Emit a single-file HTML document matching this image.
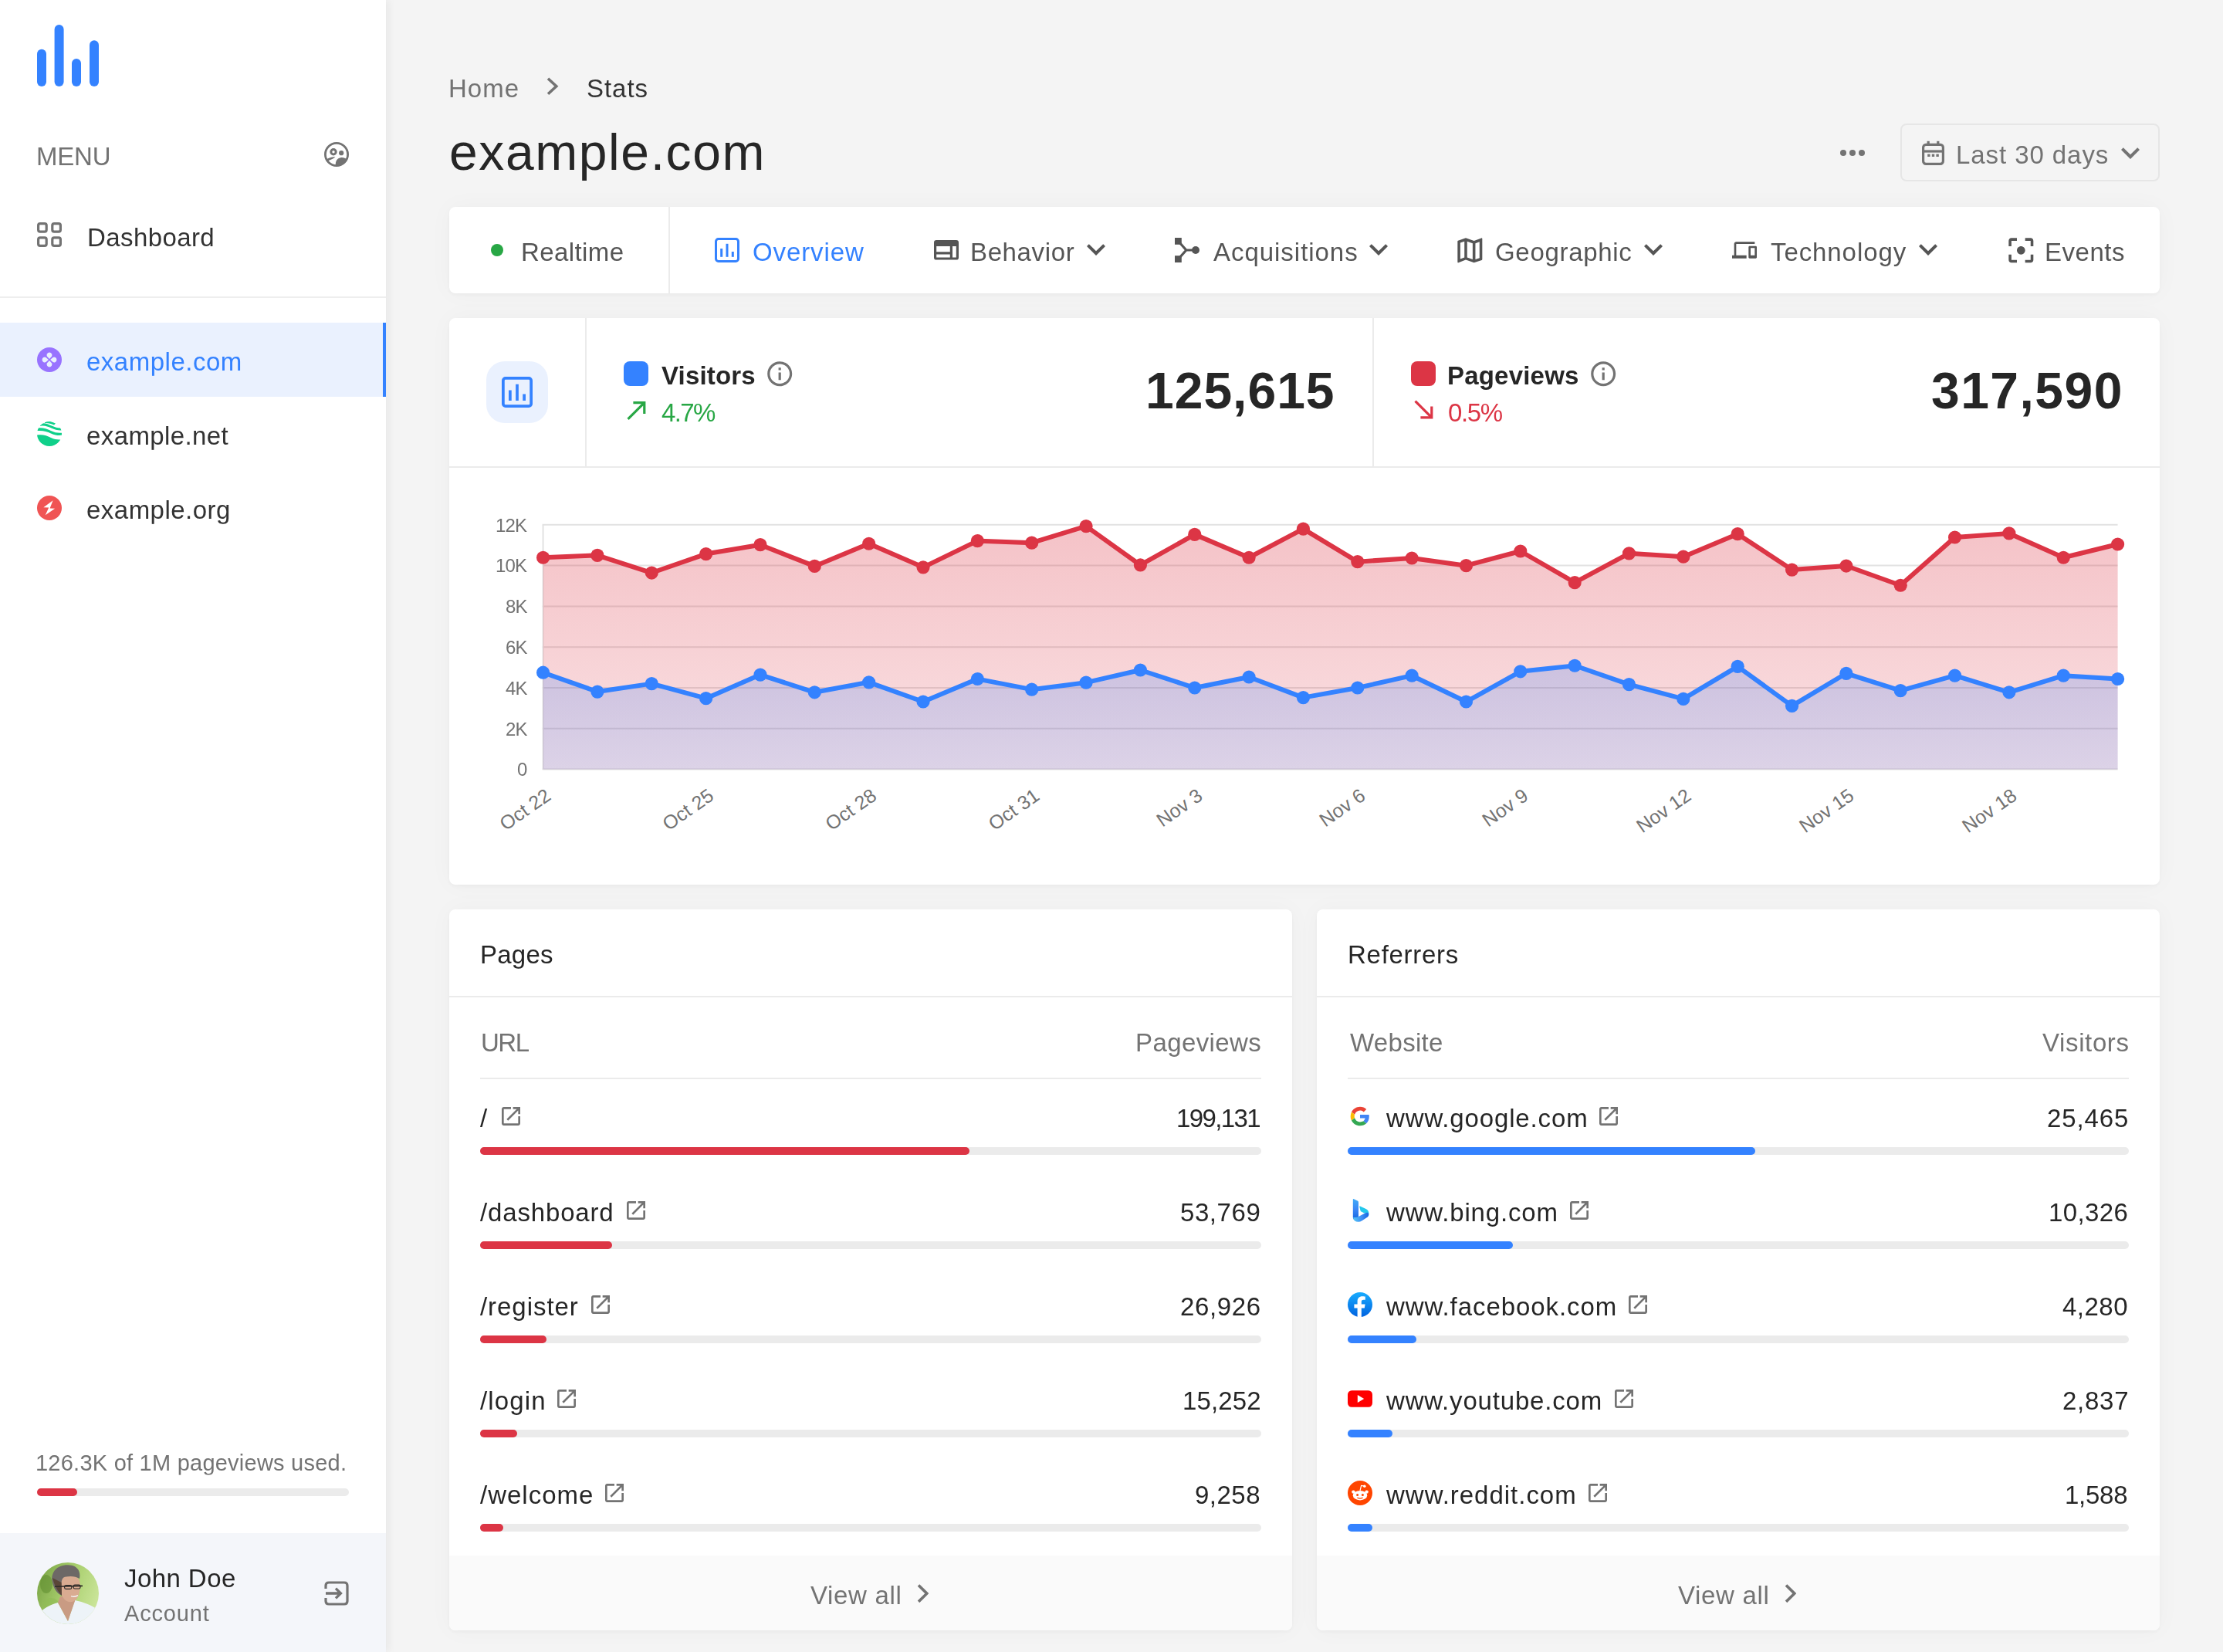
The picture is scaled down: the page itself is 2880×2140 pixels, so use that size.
<!DOCTYPE html>
<html><head><meta charset="utf-8"><title>Stats - example.com</title>
<style>
html,body{margin:0;padding:0;}
body{width:1440px;height:1070px;overflow:hidden;position:relative;background:#f4f4f4;font-family:'Liberation Sans', sans-serif;}
svg{display:block}
@media (min-width:2000px){html{zoom:2}}
</style><script>(function(){var w=window.innerWidth;if(w&&Math.abs(w-1440)>1){document.documentElement.style.zoom=(w/1440);}})();</script></head><body>
<div style="position:absolute;left:0px;top:0px;width:250px;height:1070px;background:#ffffff;box-shadow:2px 0 5px rgba(0,0,0,0.05);z-index:1"></div><div style="position:absolute;left:0;top:0;width:250px;height:1070px;z-index:2"><svg style="position:absolute;left:24px;top:15.9px;width:40px;height:40px;" viewBox="0 0 40 40"><rect x="0" y="15.9" width="6" height="24.1" rx="3" fill="#3482ff"/><rect x="11.3" y="0" width="6" height="40" rx="3" fill="#3482ff"/><rect x="22.5" y="22" width="6" height="18" rx="3" fill="#3482ff"/><rect x="34" y="10.1" width="6" height="29.9" rx="3" fill="#3482ff"/></svg><svg style="position:absolute;left:210px;top:92px;width:16px;height:16px;" viewBox="0 0 16 16"><circle cx="8" cy="8" r="7.3" fill="none" stroke="#737373" stroke-width="1.4"/><circle cx="6.0" cy="6.4" r="1.6" fill="none" stroke="#737373" stroke-width="1.5"/><circle cx="11.1" cy="7.1" r="1.55" fill="#737373"/><path d="M1.4 11.3 C2.8 10.2 5 9.5 7.2 9.6 C6.4 10.7 4.3 11.2 2.3 12.3 Z" fill="#737373"/><path d="M7.4 15.2 C7.2 12.8 7.9 10.6 10.7 10.1 C12.4 9.9 13.8 10.5 14.7 11.2 C13.6 13.6 11.2 15.2 8 15.3 Z" fill="#737373"/></svg><svg style="position:absolute;left:24px;top:144px;width:16px;height:16px;" viewBox="0 0 16 16"><rect x="0.8" y="0.8" width="5.3" height="5.3" rx="1.2" fill="none" stroke="#737373" stroke-width="1.6"/><rect x="0.8" y="9.9" width="5.3" height="5.3" rx="1.2" fill="none" stroke="#737373" stroke-width="1.6"/><rect x="9.9" y="0.8" width="5.3" height="5.3" rx="1.2" fill="none" stroke="#737373" stroke-width="1.6"/><rect x="9.9" y="9.9" width="5.3" height="5.3" rx="1.2" fill="none" stroke="#737373" stroke-width="1.6"/></svg><div style="position:absolute;left:0px;top:192px;width:250px;height:1px;background:#eeeeee;"></div><div style="position:absolute;left:0px;top:209px;width:250px;height:48px;background:#eaf1fe;"></div><div style="position:absolute;left:248px;top:209px;width:2px;height:48px;background:#3482ff;"></div><svg style="position:absolute;left:24px;top:225px;width:16px;height:16px;" viewBox="0 0 16 16"><circle cx="8" cy="8" r="8" fill="#9873ff"/><g fill="#eaf1fe"><path transform="rotate(0 8 8)" d="M8 7.45 L6.45 5.75 A1.72 1.72 0 1 1 9.55 5.75 Z"/><path transform="rotate(90 8 8)" d="M8 7.45 L6.45 5.75 A1.72 1.72 0 1 1 9.55 5.75 Z"/><path transform="rotate(180 8 8)" d="M8 7.45 L6.45 5.75 A1.72 1.72 0 1 1 9.55 5.75 Z"/><path transform="rotate(270 8 8)" d="M8 7.45 L6.45 5.75 A1.72 1.72 0 1 1 9.55 5.75 Z"/></g></svg><svg style="position:absolute;left:24px;top:273px;width:16px;height:16px;" viewBox="0 0 16 16"><defs><clipPath id="cg"><circle cx="8" cy="8" r="8"/></clipPath></defs><g clip-path="url(#cg)" fill="#10d08a"><path d="M-1 9 C3 8 6 9 9 10.5 C12 11.8 14 12 17 11.5 L17 17 L-1 17 Z"/><path d="M-1 4.4 C3 3.6 6 4.6 9 6 C12 7.4 14 7.6 17 7.2 L17 8.8 C14 9.2 12 9 9 7.7 C6 6.3 3 5.5 -1 6.2 Z"/><path d="M2 1.3 C5 0.6 7 1.6 9.5 2.8 C12 4 13.5 4.3 16 4.2 L16 5.7 C13.5 5.8 11.6 5.4 9.2 4.3 C6.8 3.2 4.8 2.4 2 3 Z"/><path d="M5 -0.3 C8 -0.6 10 0.3 12 1.3 L11 2.3 C9 1.3 7 0.8 5 1 Z"/></g></svg><svg style="position:absolute;left:24px;top:321px;width:16px;height:16px;" viewBox="0 0 16 16"><circle cx="8" cy="8" r="8" fill="#f05454"/><path d="M10.3 3.1 L4.2 7.6 L7.6 7.7 L5.4 12.6 L11.6 8.4 L8.3 8.3 Z" fill="#ffffff"/></svg><div style="position:absolute;left:24px;top:964px;width:202px;height:5px;background:#ebebeb;border-radius:3px"></div><div style="position:absolute;left:24px;top:964px;width:26px;height:5px;background:#dc3545;border-radius:3px"></div><div style="position:absolute;left:0px;top:993px;width:250px;height:77px;background:#f4f6fa;"></div><svg style="position:absolute;left:24px;top:1012px;width:40px;height:40px;" viewBox="0 0 40 40"><defs><clipPath id="av"><circle cx="20" cy="20" r="20"/></clipPath><linearGradient id="avg" x1="0" y1="0.2" x2="1" y2="0.6"><stop offset="0" stop-color="#7aa545"/><stop offset="0.5" stop-color="#a9cf6e"/><stop offset="1" stop-color="#cbe59a"/></linearGradient></defs><g clip-path="url(#av)"><rect width="40" height="40" fill="url(#avg)"/><ellipse cx="6" cy="14" rx="4" ry="6" fill="#5d8a2e" opacity="0.55"/><ellipse cx="9" cy="27" rx="5" ry="4" fill="#8fbd55" opacity="0.6"/><path d="M0 40 L0 35 C3 30 8 27.5 13.5 26 L20 38 L24.5 24.5 C30 25.5 36 28 40 31 L40 40 Z" fill="#edf3f8"/><path d="M15 22 L25 22 L24.5 25 L20 38 L13.5 26 Z" fill="#c99b83"/><path d="M14.6 14 C14.6 9.5 17.5 8.6 21.5 8.6 C26 8.6 28 10.5 27.9 15 C27.8 20 26.5 25.6 21.5 25.6 C17.5 25.6 14.8 21 14.6 14 Z" fill="#d9ab91"/><path d="M9.6 11 C9.6 4.5 14.5 1.5 20 1.6 C25.5 1.7 28.5 5 27.5 10.5 C25 8.8 21.5 8.6 18 9.4 C16.5 9.8 15.8 11.5 15.8 14 L16 21.5 C13 20 10.5 17 9.6 11 Z" fill="#6d6866"/><path d="M10 10 C11 14 13 18.5 16 21.5 L15.8 13 Z" fill="#5a4638"/><path d="M11.5 15.6 L29.5 15.2" stroke="#2f2b29" stroke-width="0.8"/><rect x="17.8" y="14.8" width="4.6" height="2.4" rx="0.9" fill="none" stroke="#2f2b29" stroke-width="0.6"/><rect x="23.6" y="14.6" width="4.4" height="2.4" rx="0.9" fill="none" stroke="#2f2b29" stroke-width="0.6"/><path d="M22 21.8 Q24.5 22.6 26.5 21.3" stroke="#f4f4f4" stroke-width="0.7" fill="none"/></g></svg><svg style="position:absolute;left:210px;top:1024px;width:16px;height:16px;" viewBox="0 0 16 16"><path d="M1 5 V3 Q1 1 3 1 H13 Q15 1 15 3 V13 Q15 15 13 15 H3 Q1 15 1 13 V11" fill="none" stroke="#737373" stroke-width="1.6"/><path d="M1 8 H10.5 M7.5 4.8 L10.7 8 L7.5 11.2" fill="none" stroke="#737373" stroke-width="1.7"/></svg></div><svg style="position:absolute;left:354px;top:50.2px;width:7.8px;height:11.8px;" viewBox="0 0 7.8 11.8"><path d="M1 0.9 L6.4 5.9 L1 10.9" fill="none" stroke="#737373" stroke-width="1.8"/></svg><svg style="position:absolute;left:1188px;top:87px;width:24px;height:24px;" viewBox="0 0 24 24"><circle cx="6" cy="12" r="2" fill="#737373"/><circle cx="12" cy="12" r="2" fill="#737373"/><circle cx="18" cy="12" r="2" fill="#737373"/></svg><div style="position:absolute;left:1231px;top:80px;width:168px;height:37.5px;background:transparent;border:1px solid #e6e6e6;border-radius:4px;box-sizing:border-box"></div><svg style="position:absolute;left:1245px;top:91px;width:14.5px;height:16px;" viewBox="0 0 14.5 16"><rect x="0.8" y="2.7" width="12.9" height="12.5" rx="1.8" fill="none" stroke="#737373" stroke-width="1.6"/><rect x="1" y="6.2" width="12.5" height="1.6" fill="#737373"/><rect x="3.3" y="0.4" width="1.6" height="3" fill="#737373"/><rect x="9.6" y="0.4" width="1.6" height="3" fill="#737373"/><rect x="3.6" y="8.8" width="1.7" height="1.7" fill="#737373"/><rect x="6.4" y="8.8" width="1.7" height="1.7" fill="#737373"/><rect x="9.2" y="8.8" width="1.7" height="1.7" fill="#737373"/></svg><svg style="position:absolute;left:1368.0px;top:86.81px;width:24.0px;height:24.0px;color:#737373;" viewBox="0 0 24 24"><path fill="currentColor" d="M16.59 8.59L12 13.17 7.41 8.59 6 10l6 6 6-6z"/></svg><div style="position:absolute;left:291px;top:134px;width:1108px;height:56px;background:#ffffff;border-radius:4px;box-shadow:0 1px 2px rgba(0,0,0,0.03),0 0 16px rgba(0,0,0,0.03)"></div><div style="position:absolute;left:433px;top:134px;width:1px;height:56px;background:#ebebeb;"></div><div style="position:absolute;left:318px;top:158px;width:8px;height:8px;border-radius:4px;background:#28a745"></div><svg style="position:absolute;left:463px;top:154px;width:16px;height:16px;" viewBox="0 0 16 16"><rect x="0.75" y="0.75" width="14.5" height="14.5" rx="1.6" fill="none" stroke="#3482ff" stroke-width="1.5"/><rect x="3.6" y="7" width="1.5" height="5.4" fill="#3482ff"/><rect x="7.25" y="3.9" width="1.5" height="8.5" fill="#3482ff"/><rect x="10.9" y="9" width="1.5" height="3.4" fill="#3482ff"/></svg><svg style="position:absolute;left:605px;top:155.6px;width:16px;height:12.8px;" viewBox="0 0 16 12.8"><path fill="#555555" fill-rule="evenodd" d="M1.6 0 H14.4 Q16 0 16 1.6 V11.2 Q16 12.8 14.4 12.8 H1.6 Q0 12.8 0 11.2 V1.6 Q0 0 1.6 0 Z M1.6 4 V7.6 H10.4 V4 Z M1.6 9.2 V11.2 H10.4 V9.2 Z M12 4 V11.2 H14.4 V4 Z"/></svg><svg style="position:absolute;left:698.0px;top:149.41px;width:24.0px;height:24.0px;color:#555555;" viewBox="0 0 24 24"><path fill="currentColor" d="M16.59 8.59L12 13.17 7.41 8.59 6 10l6 6 6-6z"/></svg><svg style="position:absolute;left:761px;top:154px;width:16px;height:16px;" viewBox="0 0 16 16"><rect x="0" y="0" width="4.4" height="4.4" fill="#555555"/><rect x="0" y="11.6" width="4.4" height="4.4" fill="#555555"/><circle cx="13.5" cy="8" r="2.5" fill="#555555"/><path d="M3 3 L7.4 8 L3 13 M7.4 8 H12" fill="none" stroke="#555555" stroke-width="1.6"/></svg><svg style="position:absolute;left:881.0px;top:149.41px;width:24.0px;height:24.0px;color:#555555;" viewBox="0 0 24 24"><path fill="currentColor" d="M16.59 8.59L12 13.17 7.41 8.59 6 10l6 6 6-6z"/></svg><svg style="position:absolute;left:941.3333333333334px;top:151.33333333333334px;width:21.333333333333332px;height:21.333333333333332px;color:#555555;" viewBox="0 0 24 24"><path fill="currentColor" d="M20.5 3l-.16.03L15 5.1 9 3 3.36 4.9c-.21.07-.36.25-.36.48V20.5c0 .28.22.5.5.5l.16-.03L9 18.9l6 2.1 5.64-1.9c.21-.07.36-.25.36-.48V3.5c0-.28-.22-.5-.5-.5zM10 5.47l4 1.4v11.66l-4-1.4V5.47zm-5 .99l3-1.01v11.7l-3 1.16V6.46zm14 11.08l-3 1.01V6.86l3-1.16v11.84z"/></svg><svg style="position:absolute;left:1059.0px;top:149.41px;width:24.0px;height:24.0px;color:#555555;" viewBox="0 0 24 24"><path fill="currentColor" d="M16.59 8.59L12 13.17 7.41 8.59 6 10l6 6 6-6z"/></svg><svg style="position:absolute;left:1122.0px;top:153.93333333333334px;width:16.0px;height:16.0px;color:#555555;" viewBox="0 0 24 24"><path fill="currentColor" d="M4 6h18V4H4c-1.1 0-2 .9-2 2v11H0v3h14v-3H4V6zm19 2h-6c-.55 0-1 .45-1 1v10c0 .55.45 1 1 1h6c.55 0 1-.45 1-1V9c0-.55-.45-1-1-1zm-1 9h-4v-7h4v7z"/></svg><svg style="position:absolute;left:1237.0px;top:149.41px;width:24.0px;height:24.0px;color:#555555;" viewBox="0 0 24 24"><path fill="currentColor" d="M16.59 8.59L12 13.17 7.41 8.59 6 10l6 6 6-6z"/></svg><svg style="position:absolute;left:1298.3333333333333px;top:151.33333333333334px;width:21.333333333333332px;height:21.333333333333332px;color:#555555;" viewBox="0 0 24 24"><path fill="currentColor" d="M5 15H3v4c0 1.1.9 2 2 2h4v-2H5v-4zM5 5h4V3H5c-1.1 0-2 .9-2 2v4h2V5zm14-2h-4v2h4v4h2V5c0-1.1-.9-2-2-2zm0 16h-4v2h4c1.1 0 2-.9 2-2v-4h-2v4zM12 9c-1.66 0-3 1.34-3 3s1.34 3 3 3 3-1.34 3-3-1.34-3-3-3z"/></svg><div style="position:absolute;left:291px;top:206px;width:1108px;height:367px;background:#ffffff;border-radius:4px;box-shadow:0 1px 2px rgba(0,0,0,0.03),0 0 16px rgba(0,0,0,0.03)"></div><div style="position:absolute;left:315px;top:234px;width:40px;height:40px;background:#eaf1fe;border-radius:12px"></div><svg style="position:absolute;left:325px;top:244px;width:20px;height:20px;" viewBox="0 0 16 16"><rect x="0.75" y="0.75" width="14.5" height="14.5" rx="1.2" fill="none" stroke="#3482ff" stroke-width="1.5"/><rect x="3.6" y="7" width="1.5" height="5.4" fill="#3482ff"/><rect x="7.25" y="3.9" width="1.5" height="8.5" fill="#3482ff"/><rect x="10.9" y="9" width="1.5" height="3.4" fill="#3482ff"/></svg><div style="position:absolute;left:379px;top:206px;width:1px;height:96px;background:#ebebeb;"></div><div style="position:absolute;left:889px;top:206px;width:1px;height:96px;background:#ebebeb;"></div><div style="position:absolute;left:291px;top:302px;width:1108px;height:1px;background:#ebebeb;"></div><div style="position:absolute;left:404px;top:234px;width:16px;height:16px;background:#3482ff;border-radius:4px"></div><svg style="position:absolute;left:495.59999999999997px;top:232.4px;width:19.200000000000003px;height:19.200000000000003px;color:#737373;" viewBox="0 0 24 24"><path fill="currentColor" d="M11 7h2v2h-2zm0 4h2v6h-2zm1-9C6.48 2 2 6.48 2 12s4.48 10 10 10 10-4.48 10-10S17.52 2 12 2zm0 18c-4.41 0-8-3.59-8-8s3.59-8 8-8 8 3.59 8 8-3.59 8-8 8z"/></svg><svg style="position:absolute;left:402.8px;top:256.0px;width:19.200000000000003px;height:19.200000000000003px;color:#28a745;" viewBox="0 0 24 24"><path fill="currentColor" d="M9 5v2h6.59L4 18.59 5.41 20 17 8.41V15h2V5z"/></svg><div style="position:absolute;left:914px;top:234px;width:16px;height:16px;background:#dc3545;border-radius:4px"></div><svg style="position:absolute;left:1029.0000000000002px;top:232.4px;width:19.200000000000003px;height:19.200000000000003px;color:#737373;" viewBox="0 0 24 24"><path fill="currentColor" d="M11 7h2v2h-2zm0 4h2v6h-2zm1-9C6.48 2 2 6.48 2 12s4.48 10 10 10 10-4.48 10-10S17.52 2 12 2zm0 18c-4.41 0-8-3.59-8-8s3.59-8 8-8 8 3.59 8 8-3.59 8-8 8z"/></svg><svg style="position:absolute;left:912.8px;top:256.0px;width:19.200000000000003px;height:19.200000000000003px;color:#dc3545;" viewBox="0 0 24 24"><path fill="currentColor" d="M19 9h-2v6.59L5.41 4 4 5.41 15.59 17H9v2h10z"/></svg><svg style="position:absolute;left:0;top:0;width:1440px;height:1070px;overflow:visible;z-index:3" viewBox="0 0 1440 1070"><defs><linearGradient id="gr" x1="0" y1="0" x2="0" y2="1"><stop offset="0" stop-color="#dc3545" stop-opacity="0.30"/><stop offset="1" stop-color="#dc3545" stop-opacity="0.15"/></linearGradient><linearGradient id="gb" x1="0" y1="0" x2="0" y2="1"><stop offset="0" stop-color="#3482ff" stop-opacity="0.22"/><stop offset="1" stop-color="#3482ff" stop-opacity="0.15"/></linearGradient></defs><line x1="351.3" x2="1371.7996" y1="339.90" y2="339.90" stroke="#e2e2e2" stroke-width="1"/><line x1="351.3" x2="1371.7996" y1="366.30" y2="366.30" stroke="#e2e2e2" stroke-width="1"/><line x1="351.3" x2="1371.7996" y1="392.70" y2="392.70" stroke="#e2e2e2" stroke-width="1"/><line x1="351.3" x2="1371.7996" y1="419.10" y2="419.10" stroke="#e2e2e2" stroke-width="1"/><line x1="351.3" x2="1371.7996" y1="445.50" y2="445.50" stroke="#e2e2e2" stroke-width="1"/><line x1="351.3" x2="1371.7996" y1="471.90" y2="471.90" stroke="#e2e2e2" stroke-width="1"/><line x1="351.3" x2="1371.7996" y1="498.30" y2="498.30" stroke="#e2e2e2" stroke-width="1"/><line x1="351.8" x2="351.8" y1="339.9" y2="498.3" stroke="#e2e2e2" stroke-width="1"/><polygon points="351.8,498.3 351.80,361.13 386.97,359.69 422.14,371.02 457.32,358.79 492.49,352.85 527.66,366.70 562.83,352.13 598.01,367.42 633.18,350.33 668.35,351.59 703.52,340.80 738.70,365.98 773.87,346.19 809.04,361.13 844.21,342.59 879.39,363.83 914.56,361.49 949.73,366.34 984.90,356.99 1020.08,377.32 1055.25,358.43 1090.42,360.59 1125.59,345.83 1160.77,369.04 1195.94,366.52 1231.11,379.12 1266.28,347.99 1301.45,345.47 1336.63,361.13 1371.80,352.49 1371.7996,498.3" fill="url(#gr)"/><polygon points="351.8,498.3 351.80,435.61 386.97,448.03 422.14,442.81 457.32,452.35 492.49,437.05 527.66,448.39 562.83,441.91 598.01,454.51 633.18,439.75 668.35,446.59 703.52,442.09 738.70,433.99 773.87,445.51 809.04,438.49 844.21,451.81 879.39,445.51 914.56,437.59 949.73,454.51 984.90,434.89 1020.08,431.12 1055.25,443.35 1090.42,452.71 1125.59,431.66 1160.77,457.20 1195.94,436.15 1231.11,447.31 1266.28,437.59 1301.45,448.39 1336.63,437.59 1371.80,439.75 1371.7996,498.3" fill="url(#gb)"/><polyline points="351.80,361.13 386.97,359.69 422.14,371.02 457.32,358.79 492.49,352.85 527.66,366.70 562.83,352.13 598.01,367.42 633.18,350.33 668.35,351.59 703.52,340.80 738.70,365.98 773.87,346.19 809.04,361.13 844.21,342.59 879.39,363.83 914.56,361.49 949.73,366.34 984.90,356.99 1020.08,377.32 1055.25,358.43 1090.42,360.59 1125.59,345.83 1160.77,369.04 1195.94,366.52 1231.11,379.12 1266.28,347.99 1301.45,345.47 1336.63,361.13 1371.80,352.49" fill="none" stroke="#dc3545" stroke-width="3" stroke-linejoin="round"/><polyline points="351.80,435.61 386.97,448.03 422.14,442.81 457.32,452.35 492.49,437.05 527.66,448.39 562.83,441.91 598.01,454.51 633.18,439.75 668.35,446.59 703.52,442.09 738.70,433.99 773.87,445.51 809.04,438.49 844.21,451.81 879.39,445.51 914.56,437.59 949.73,454.51 984.90,434.89 1020.08,431.12 1055.25,443.35 1090.42,452.71 1125.59,431.66 1160.77,457.20 1195.94,436.15 1231.11,447.31 1266.28,437.59 1301.45,448.39 1336.63,437.59 1371.80,439.75" fill="none" stroke="#3482ff" stroke-width="3" stroke-linejoin="round"/><circle cx="351.80" cy="361.13" r="4.3" fill="#dc3545"/><circle cx="386.97" cy="359.69" r="4.3" fill="#dc3545"/><circle cx="422.14" cy="371.02" r="4.3" fill="#dc3545"/><circle cx="457.32" cy="358.79" r="4.3" fill="#dc3545"/><circle cx="492.49" cy="352.85" r="4.3" fill="#dc3545"/><circle cx="527.66" cy="366.70" r="4.3" fill="#dc3545"/><circle cx="562.83" cy="352.13" r="4.3" fill="#dc3545"/><circle cx="598.01" cy="367.42" r="4.3" fill="#dc3545"/><circle cx="633.18" cy="350.33" r="4.3" fill="#dc3545"/><circle cx="668.35" cy="351.59" r="4.3" fill="#dc3545"/><circle cx="703.52" cy="340.80" r="4.3" fill="#dc3545"/><circle cx="738.70" cy="365.98" r="4.3" fill="#dc3545"/><circle cx="773.87" cy="346.19" r="4.3" fill="#dc3545"/><circle cx="809.04" cy="361.13" r="4.3" fill="#dc3545"/><circle cx="844.21" cy="342.59" r="4.3" fill="#dc3545"/><circle cx="879.39" cy="363.83" r="4.3" fill="#dc3545"/><circle cx="914.56" cy="361.49" r="4.3" fill="#dc3545"/><circle cx="949.73" cy="366.34" r="4.3" fill="#dc3545"/><circle cx="984.90" cy="356.99" r="4.3" fill="#dc3545"/><circle cx="1020.08" cy="377.32" r="4.3" fill="#dc3545"/><circle cx="1055.25" cy="358.43" r="4.3" fill="#dc3545"/><circle cx="1090.42" cy="360.59" r="4.3" fill="#dc3545"/><circle cx="1125.59" cy="345.83" r="4.3" fill="#dc3545"/><circle cx="1160.77" cy="369.04" r="4.3" fill="#dc3545"/><circle cx="1195.94" cy="366.52" r="4.3" fill="#dc3545"/><circle cx="1231.11" cy="379.12" r="4.3" fill="#dc3545"/><circle cx="1266.28" cy="347.99" r="4.3" fill="#dc3545"/><circle cx="1301.45" cy="345.47" r="4.3" fill="#dc3545"/><circle cx="1336.63" cy="361.13" r="4.3" fill="#dc3545"/><circle cx="1371.80" cy="352.49" r="4.3" fill="#dc3545"/><circle cx="351.80" cy="435.61" r="4.3" fill="#3482ff"/><circle cx="386.97" cy="448.03" r="4.3" fill="#3482ff"/><circle cx="422.14" cy="442.81" r="4.3" fill="#3482ff"/><circle cx="457.32" cy="452.35" r="4.3" fill="#3482ff"/><circle cx="492.49" cy="437.05" r="4.3" fill="#3482ff"/><circle cx="527.66" cy="448.39" r="4.3" fill="#3482ff"/><circle cx="562.83" cy="441.91" r="4.3" fill="#3482ff"/><circle cx="598.01" cy="454.51" r="4.3" fill="#3482ff"/><circle cx="633.18" cy="439.75" r="4.3" fill="#3482ff"/><circle cx="668.35" cy="446.59" r="4.3" fill="#3482ff"/><circle cx="703.52" cy="442.09" r="4.3" fill="#3482ff"/><circle cx="738.70" cy="433.99" r="4.3" fill="#3482ff"/><circle cx="773.87" cy="445.51" r="4.3" fill="#3482ff"/><circle cx="809.04" cy="438.49" r="4.3" fill="#3482ff"/><circle cx="844.21" cy="451.81" r="4.3" fill="#3482ff"/><circle cx="879.39" cy="445.51" r="4.3" fill="#3482ff"/><circle cx="914.56" cy="437.59" r="4.3" fill="#3482ff"/><circle cx="949.73" cy="454.51" r="4.3" fill="#3482ff"/><circle cx="984.90" cy="434.89" r="4.3" fill="#3482ff"/><circle cx="1020.08" cy="431.12" r="4.3" fill="#3482ff"/><circle cx="1055.25" cy="443.35" r="4.3" fill="#3482ff"/><circle cx="1090.42" cy="452.71" r="4.3" fill="#3482ff"/><circle cx="1125.59" cy="431.66" r="4.3" fill="#3482ff"/><circle cx="1160.77" cy="457.20" r="4.3" fill="#3482ff"/><circle cx="1195.94" cy="436.15" r="4.3" fill="#3482ff"/><circle cx="1231.11" cy="447.31" r="4.3" fill="#3482ff"/><circle cx="1266.28" cy="437.59" r="4.3" fill="#3482ff"/><circle cx="1301.45" cy="448.39" r="4.3" fill="#3482ff"/><circle cx="1336.63" cy="437.59" r="4.3" fill="#3482ff"/><circle cx="1371.80" cy="439.75" r="4.3" fill="#3482ff"/><text x="355.80" y="514.5" transform="rotate(-35 355.80 514.5)" text-anchor="end" dominant-baseline="middle" font-family="Liberation Sans" font-size="12.5" fill="#737373">Oct 22</text><text x="461.32" y="514.5" transform="rotate(-35 461.32 514.5)" text-anchor="end" dominant-baseline="middle" font-family="Liberation Sans" font-size="12.5" fill="#737373">Oct 25</text><text x="566.83" y="514.5" transform="rotate(-35 566.83 514.5)" text-anchor="end" dominant-baseline="middle" font-family="Liberation Sans" font-size="12.5" fill="#737373">Oct 28</text><text x="672.35" y="514.5" transform="rotate(-35 672.35 514.5)" text-anchor="end" dominant-baseline="middle" font-family="Liberation Sans" font-size="12.5" fill="#737373">Oct 31</text><text x="777.87" y="514.5" transform="rotate(-35 777.87 514.5)" text-anchor="end" dominant-baseline="middle" font-family="Liberation Sans" font-size="12.5" fill="#737373">Nov 3</text><text x="883.39" y="514.5" transform="rotate(-35 883.39 514.5)" text-anchor="end" dominant-baseline="middle" font-family="Liberation Sans" font-size="12.5" fill="#737373">Nov 6</text><text x="988.90" y="514.5" transform="rotate(-35 988.90 514.5)" text-anchor="end" dominant-baseline="middle" font-family="Liberation Sans" font-size="12.5" fill="#737373">Nov 9</text><text x="1094.42" y="514.5" transform="rotate(-35 1094.42 514.5)" text-anchor="end" dominant-baseline="middle" font-family="Liberation Sans" font-size="12.5" fill="#737373">Nov 12</text><text x="1199.94" y="514.5" transform="rotate(-35 1199.94 514.5)" text-anchor="end" dominant-baseline="middle" font-family="Liberation Sans" font-size="12.5" fill="#737373">Nov 15</text><text x="1305.45" y="514.5" transform="rotate(-35 1305.45 514.5)" text-anchor="end" dominant-baseline="middle" font-family="Liberation Sans" font-size="12.5" fill="#737373">Nov 18</text></svg><div style="position:absolute;left:291px;top:589px;width:546px;height:467px;background:#ffffff;border-radius:4px;box-shadow:0 1px 2px rgba(0,0,0,0.03),0 0 16px rgba(0,0,0,0.03);overflow:hidden"></div><div style="position:absolute;left:291px;top:1007.5px;width:546px;height:48.5px;background:#fafafa;border-radius:0 0 4px 4px"></div><div style="position:absolute;left:291px;top:645px;width:546px;height:1px;background:#ebebeb;"></div><div style="position:absolute;left:311px;top:698px;width:506px;height:1px;background:#ebebeb;"></div><svg style="position:absolute;left:323.0px;top:715.0px;width:16.0px;height:16.0px;color:#737373;" viewBox="0 0 24 24"><path fill="currentColor" d="M19 19H5V5h7V3H5c-1.11 0-2 .9-2 2v14c0 1.1.89 2 2 2h14c1.1 0 2-.9 2-2v-7h-2v7zM14 3v2h3.59l-9.83 9.83 1.41 1.41L19 6.41V10h2V3h-7z"/></svg><div style="position:absolute;left:311px;top:743px;width:506px;height:5px;background:#ebebeb;border-radius:3px"></div><div style="position:absolute;left:311px;top:743px;width:316.8px;height:5px;background:#dc3545;border-radius:3px"></div><svg style="position:absolute;left:404.0px;top:776.0px;width:16.0px;height:16.0px;color:#737373;" viewBox="0 0 24 24"><path fill="currentColor" d="M19 19H5V5h7V3H5c-1.11 0-2 .9-2 2v14c0 1.1.89 2 2 2h14c1.1 0 2-.9 2-2v-7h-2v7zM14 3v2h3.59l-9.83 9.83 1.41 1.41L19 6.41V10h2V3h-7z"/></svg><div style="position:absolute;left:311px;top:804px;width:506px;height:5px;background:#ebebeb;border-radius:3px"></div><div style="position:absolute;left:311px;top:804px;width:85.7px;height:5px;background:#dc3545;border-radius:3px"></div><svg style="position:absolute;left:381.0px;top:837.0px;width:16.0px;height:16.0px;color:#737373;" viewBox="0 0 24 24"><path fill="currentColor" d="M19 19H5V5h7V3H5c-1.11 0-2 .9-2 2v14c0 1.1.89 2 2 2h14c1.1 0 2-.9 2-2v-7h-2v7zM14 3v2h3.59l-9.83 9.83 1.41 1.41L19 6.41V10h2V3h-7z"/></svg><div style="position:absolute;left:311px;top:865px;width:506px;height:5px;background:#ebebeb;border-radius:3px"></div><div style="position:absolute;left:311px;top:865px;width:43px;height:5px;background:#dc3545;border-radius:3px"></div><svg style="position:absolute;left:359.0px;top:898.0px;width:16.0px;height:16.0px;color:#737373;" viewBox="0 0 24 24"><path fill="currentColor" d="M19 19H5V5h7V3H5c-1.11 0-2 .9-2 2v14c0 1.1.89 2 2 2h14c1.1 0 2-.9 2-2v-7h-2v7zM14 3v2h3.59l-9.83 9.83 1.41 1.41L19 6.41V10h2V3h-7z"/></svg><div style="position:absolute;left:311px;top:926px;width:506px;height:5px;background:#ebebeb;border-radius:3px"></div><div style="position:absolute;left:311px;top:926px;width:23.9px;height:5px;background:#dc3545;border-radius:3px"></div><svg style="position:absolute;left:390.0px;top:959.0px;width:16.0px;height:16.0px;color:#737373;" viewBox="0 0 24 24"><path fill="currentColor" d="M19 19H5V5h7V3H5c-1.11 0-2 .9-2 2v14c0 1.1.89 2 2 2h14c1.1 0 2-.9 2-2v-7h-2v7zM14 3v2h3.59l-9.83 9.83 1.41 1.41L19 6.41V10h2V3h-7z"/></svg><div style="position:absolute;left:311px;top:987px;width:506px;height:5px;background:#ebebeb;border-radius:3px"></div><div style="position:absolute;left:311px;top:987px;width:14.8px;height:5px;background:#dc3545;border-radius:3px"></div><svg style="position:absolute;left:594.0px;top:1025.9px;width:7.6px;height:12.2px;" viewBox="0 0 7.6 12.2"><path d="M1 0.75 L6.4 6.1 L1 11.45" fill="none" stroke="#737373" stroke-width="1.8"/></svg><div style="position:absolute;left:853px;top:589px;width:546px;height:467px;background:#ffffff;border-radius:4px;box-shadow:0 1px 2px rgba(0,0,0,0.03),0 0 16px rgba(0,0,0,0.03);overflow:hidden"></div><div style="position:absolute;left:853px;top:1007.5px;width:546px;height:48.5px;background:#fafafa;border-radius:0 0 4px 4px"></div><div style="position:absolute;left:853px;top:645px;width:546px;height:1px;background:#ebebeb;"></div><div style="position:absolute;left:873px;top:698px;width:506px;height:1px;background:#ebebeb;"></div><svg style="position:absolute;left:1034.0px;top:715.0px;width:16.0px;height:16.0px;color:#737373;" viewBox="0 0 24 24"><path fill="currentColor" d="M19 19H5V5h7V3H5c-1.11 0-2 .9-2 2v14c0 1.1.89 2 2 2h14c1.1 0 2-.9 2-2v-7h-2v7zM14 3v2h3.59l-9.83 9.83 1.41 1.41L19 6.41V10h2V3h-7z"/></svg><div style="position:absolute;left:873px;top:743px;width:506px;height:5px;background:#ebebeb;border-radius:3px"></div><div style="position:absolute;left:873px;top:743px;width:264px;height:5px;background:#3482ff;border-radius:3px"></div><svg style="position:absolute;left:873px;top:715px;width:16px;height:16px" viewBox="0 0 48 48"><g transform="translate(5.5 5.5) scale(0.77)"><path fill="#EA4335" d="M24 9.5c3.54 0 6.71 1.22 9.21 3.6l6.85-6.85C35.9 2.38 30.47 0 24 0 14.62 0 6.51 5.38 2.56 13.22l7.98 6.19C12.43 13.72 17.74 9.5 24 9.5z"/><path fill="#4285F4" d="M46.98 24.55c0-1.57-.15-3.09-.38-4.55H24v9.02h12.94c-.58 2.96-2.26 5.48-4.78 7.18l7.73 6c4.51-4.18 7.09-10.36 7.09-17.65z"/><path fill="#FBBC05" d="M10.53 28.59c-.48-1.45-.76-2.99-.76-4.59s.27-3.14.76-4.59l-7.98-6.19C.92 16.46 0 20.12 0 24c0 3.88.92 7.54 2.56 10.78l7.97-6.19z"/><path fill="#34A853" d="M24 48c6.48 0 11.93-2.13 15.89-5.81l-7.73-6c-2.15 1.45-4.92 2.3-8.16 2.3-6.26 0-11.57-4.22-13.47-9.91l-7.98 6.19C6.51 42.62 14.62 48 24 48z"/></g></svg><svg style="position:absolute;left:1015.0px;top:776.0px;width:16.0px;height:16.0px;color:#737373;" viewBox="0 0 24 24"><path fill="currentColor" d="M19 19H5V5h7V3H5c-1.11 0-2 .9-2 2v14c0 1.1.89 2 2 2h14c1.1 0 2-.9 2-2v-7h-2v7zM14 3v2h3.59l-9.83 9.83 1.41 1.41L19 6.41V10h2V3h-7z"/></svg><div style="position:absolute;left:873px;top:804px;width:506px;height:5px;background:#ebebeb;border-radius:3px"></div><div style="position:absolute;left:873px;top:804px;width:107px;height:5px;background:#3482ff;border-radius:3px"></div><svg style="position:absolute;left:873px;top:776px;width:16px;height:16px" viewBox="0 0 16 16"><defs><linearGradient id="bgs" x1="0" y1="0" x2="0" y2="1"><stop offset="0" stop-color="#41acf7"/><stop offset="0.5" stop-color="#3b86f6"/><stop offset="1" stop-color="#1466e0"/></linearGradient><linearGradient id="bgb" x1="0" y1="0" x2="1" y2="0"><stop offset="0" stop-color="#55c8f5"/><stop offset="0.55" stop-color="#3d8ef5"/><stop offset="1" stop-color="#1565e0"/></linearGradient></defs><path d="M3.4 1.0 Q3.4 0.4 4.0 0.6 L6.6 1.9 Q7.0 2.2 7.0 2.7 V12.4 Q7.0 14.2 5.3 14.2 Q3.4 14.2 3.4 12.4 Z" fill="url(#bgs)"/><path d="M7.6 5.5 Q7.5 5.1 8.0 5.3 L11.8 7.0 Q13.6 7.9 13.7 9.9 L13.7 10.3 L10.5 9.6 L8.8 8.8 Q8.4 8.6 8.3 8.2 Z" fill="#23c8ec"/><path d="M3.5 12.6 Q4.0 15.5 7.0 15.4 Q8.0 15.4 9.3 14.6 L12.9 12.2 Q13.7 11.6 13.7 10.5 Q13.6 9.6 12.8 9.4 Q12.2 9.3 11.2 9.7 L7.0 12.0 Q5.8 12.7 4.8 12.5 Z" fill="url(#bgb)"/></svg><svg style="position:absolute;left:1053.0px;top:837.0px;width:16.0px;height:16.0px;color:#737373;" viewBox="0 0 24 24"><path fill="currentColor" d="M19 19H5V5h7V3H5c-1.11 0-2 .9-2 2v14c0 1.1.89 2 2 2h14c1.1 0 2-.9 2-2v-7h-2v7zM14 3v2h3.59l-9.83 9.83 1.41 1.41L19 6.41V10h2V3h-7z"/></svg><div style="position:absolute;left:873px;top:865px;width:506px;height:5px;background:#ebebeb;border-radius:3px"></div><div style="position:absolute;left:873px;top:865px;width:44.3px;height:5px;background:#3482ff;border-radius:3px"></div><svg style="position:absolute;left:873px;top:837px;width:16px;height:16px" viewBox="0 0 16 16"><defs><linearGradient id="fbg" x1="0" y1="0" x2="0" y2="1"><stop offset="0" stop-color="#18acfe"/><stop offset="1" stop-color="#0163e0"/></linearGradient></defs><circle cx="8" cy="8" r="8" fill="url(#fbg)"/><path d="M10.9 10.3 L11.3 7.8 H8.9 V6.2 C8.9 5.5 9.2 4.9 10.3 4.9 H11.4 V2.8 C11.4 2.8 10.4 2.6 9.5 2.6 C7.5 2.6 6.3 3.8 6.3 5.9 V7.8 H4.2 V10.3 H6.3 V16 H8.9 V10.3 Z" fill="#fff"/></svg><svg style="position:absolute;left:1044.0px;top:898.0px;width:16.0px;height:16.0px;color:#737373;" viewBox="0 0 24 24"><path fill="currentColor" d="M19 19H5V5h7V3H5c-1.11 0-2 .9-2 2v14c0 1.1.89 2 2 2h14c1.1 0 2-.9 2-2v-7h-2v7zM14 3v2h3.59l-9.83 9.83 1.41 1.41L19 6.41V10h2V3h-7z"/></svg><div style="position:absolute;left:873px;top:926px;width:506px;height:5px;background:#ebebeb;border-radius:3px"></div><div style="position:absolute;left:873px;top:926px;width:29.2px;height:5px;background:#3482ff;border-radius:3px"></div><svg style="position:absolute;left:873px;top:898px;width:16px;height:16px" viewBox="0 0 16 16"><rect x="0" y="2.6" width="16" height="10.8" rx="2.6" fill="#ff0000"/><path d="M6.4 5.5 L10.6 8 L6.4 10.5 Z" fill="#fff"/></svg><svg style="position:absolute;left:1027.0px;top:959.0px;width:16.0px;height:16.0px;color:#737373;" viewBox="0 0 24 24"><path fill="currentColor" d="M19 19H5V5h7V3H5c-1.11 0-2 .9-2 2v14c0 1.1.89 2 2 2h14c1.1 0 2-.9 2-2v-7h-2v7zM14 3v2h3.59l-9.83 9.83 1.41 1.41L19 6.41V10h2V3h-7z"/></svg><div style="position:absolute;left:873px;top:987px;width:506px;height:5px;background:#ebebeb;border-radius:3px"></div><div style="position:absolute;left:873px;top:987px;width:16px;height:5px;background:#3482ff;border-radius:3px"></div><svg style="position:absolute;left:873px;top:959px;width:16px;height:16px" viewBox="0 0 16 16"><circle cx="8" cy="8" r="8" fill="#ff4500"/><ellipse cx="8" cy="9.6" rx="4.6" ry="3.1" fill="#fff"/><circle cx="12.3" cy="7.3" r="1.1" fill="#fff"/><circle cx="3.7" cy="7.3" r="1.1" fill="#fff"/><circle cx="10.9" cy="3.6" r="0.9" fill="#fff"/><path d="M8 6.5 L8.8 3.2 L10.9 3.6" fill="none" stroke="#fff" stroke-width="0.6"/><circle cx="6.3" cy="9.2" r="0.75" fill="#ff4500"/><circle cx="9.7" cy="9.2" r="0.75" fill="#ff4500"/><path d="M6.2 11 Q8 12.2 9.8 11" fill="none" stroke="#ff4500" stroke-width="0.6"/></svg><svg style="position:absolute;left:1156.0px;top:1025.9px;width:7.6px;height:12.2px;" viewBox="0 0 7.6 12.2"><path d="M1 0.75 L6.4 6.1 L1 11.45" fill="none" stroke="#737373" stroke-width="1.8"/></svg>
<div style="position:absolute;left:23.50px;top:93px;transform:translateY(0.00px);font-size:16.5px;line-height:1;font-weight:400;color:#737373;letter-spacing:-0.100px;white-space:nowrap;z-index:4;will-change:transform;">MENU</div><div style="position:absolute;left:56.40px;top:145px;transform:translateY(0.50px);font-size:16.5px;line-height:1;font-weight:400;color:#333333;letter-spacing:0.200px;white-space:nowrap;z-index:4;will-change:transform;">Dashboard</div><div style="position:absolute;left:56.00px;top:225px;transform:translateY(0.90px);font-size:16.5px;line-height:1;font-weight:400;color:#3482ff;letter-spacing:0.250px;white-space:nowrap;z-index:4;will-change:transform;">example.com</div><div style="position:absolute;left:56.00px;top:273px;transform:translateY(0.90px);font-size:16.5px;line-height:1;font-weight:400;color:#333333;letter-spacing:0.200px;white-space:nowrap;z-index:4;will-change:transform;">example.net</div><div style="position:absolute;left:56.00px;top:321px;transform:translateY(0.90px);font-size:16.5px;line-height:1;font-weight:400;color:#333333;letter-spacing:0.240px;white-space:nowrap;z-index:4;will-change:transform;">example.org</div><div style="position:absolute;left:23.00px;top:940px;transform:translateY(0.30px);font-size:14.5px;line-height:1;font-weight:400;color:#737373;letter-spacing:0.119px;white-space:nowrap;z-index:4;will-change:transform;">126.3K of 1M pageviews used.</div><div style="position:absolute;left:80.50px;top:1013px;transform:translateY(0.80px);font-size:16.5px;line-height:1;font-weight:400;color:#262626;letter-spacing:0.214px;white-space:nowrap;z-index:4;will-change:transform;">John Doe</div><div style="position:absolute;left:80.50px;top:1038px;transform:translateY(0.00px);font-size:14.5px;line-height:1;font-weight:400;color:#737373;letter-spacing:0.417px;white-space:nowrap;z-index:4;will-change:transform;">Account</div><div style="position:absolute;left:290.50px;top:49px;transform:translateY(0.20px);font-size:16.5px;line-height:1;font-weight:400;color:#737373;letter-spacing:0.500px;white-space:nowrap;z-index:4;will-change:transform;">Home</div><div style="position:absolute;left:380.00px;top:49px;transform:translateY(0.20px);font-size:16.5px;line-height:1;font-weight:400;color:#333333;letter-spacing:0.475px;white-space:nowrap;z-index:4;will-change:transform;">Stats</div><div style="position:absolute;left:290.80px;top:82px;transform:translateY(0.00px);font-size:33px;line-height:1;font-weight:400;color:#262626;letter-spacing:0.800px;white-space:nowrap;z-index:4;will-change:transform;">example.com</div><div style="position:absolute;left:1267.00px;top:92px;transform:translateY(0.20px);font-size:16.5px;line-height:1;font-weight:400;color:#737373;letter-spacing:0.464px;white-space:nowrap;z-index:4;will-change:transform;">Last 30 days</div><div style="position:absolute;left:337.50px;top:155px;transform:translateY(0.10px);font-size:16.5px;line-height:1;font-weight:400;color:#555555;letter-spacing:0.200px;white-space:nowrap;z-index:4;will-change:transform;">Realtime</div><div style="position:absolute;left:487.30px;top:155px;transform:translateY(0.10px);font-size:16.5px;line-height:1;font-weight:400;color:#3482ff;letter-spacing:0.443px;white-space:nowrap;z-index:4;will-change:transform;">Overview</div><div style="position:absolute;left:628.50px;top:155px;transform:translateY(0.10px);font-size:16.5px;line-height:1;font-weight:400;color:#555555;letter-spacing:0.314px;white-space:nowrap;z-index:4;will-change:transform;">Behavior</div><div style="position:absolute;left:785.80px;top:155px;transform:translateY(0.10px);font-size:16.5px;line-height:1;font-weight:400;color:#555555;letter-spacing:0.482px;white-space:nowrap;z-index:4;will-change:transform;">Acquisitions</div><div style="position:absolute;left:968.40px;top:155px;transform:translateY(0.10px);font-size:16.5px;line-height:1;font-weight:400;color:#555555;letter-spacing:0.344px;white-space:nowrap;z-index:4;will-change:transform;">Geographic</div><div style="position:absolute;left:1147.00px;top:155px;transform:translateY(0.10px);font-size:16.5px;line-height:1;font-weight:400;color:#555555;letter-spacing:0.456px;white-space:nowrap;z-index:4;will-change:transform;">Technology</div><div style="position:absolute;left:1324.50px;top:155px;transform:translateY(0.10px);font-size:16.5px;line-height:1;font-weight:400;color:#555555;letter-spacing:0.260px;white-space:nowrap;z-index:4;will-change:transform;">Events</div><div style="position:absolute;left:428.60px;top:235px;transform:translateY(0.10px);font-size:16.5px;line-height:1;font-weight:700;color:#262626;letter-spacing:0.086px;white-space:nowrap;z-index:4;will-change:transform;">Visitors</div><div style="position:absolute;left:428.60px;top:259px;transform:translateY(0.00px);font-size:16.5px;line-height:1;font-weight:400;color:#28a745;letter-spacing:-0.833px;white-space:nowrap;z-index:4;will-change:transform;">4.7%</div><div style="position:absolute;left:741.80px;top:236px;transform:translateY(0.60px);font-size:33px;line-height:1;font-weight:700;color:#262626;letter-spacing:0.500px;white-space:nowrap;z-index:4;will-change:transform;">125,615</div><div style="position:absolute;left:937.60px;top:235px;transform:translateY(0.10px);font-size:16.5px;line-height:1;font-weight:700;color:#262626;letter-spacing:0.100px;white-space:nowrap;z-index:4;will-change:transform;">Pageviews</div><div style="position:absolute;left:938.10px;top:259px;transform:translateY(0.00px);font-size:16.5px;line-height:1;font-weight:400;color:#dc3545;letter-spacing:-0.667px;white-space:nowrap;z-index:4;will-change:transform;">0.5%</div><div style="position:absolute;left:1250.80px;top:236px;transform:translateY(0.60px);font-size:33px;line-height:1;font-weight:700;color:#262626;letter-spacing:0.733px;white-space:nowrap;z-index:4;will-change:transform;">317,590</div><div style="position:absolute;left:321.00px;top:334px;transform:translateY(0.25px);font-size:12px;line-height:1;font-weight:400;color:#737373;letter-spacing:-0.450px;white-space:nowrap;z-index:4;will-change:transform;">12K</div><div style="position:absolute;left:321.00px;top:360px;transform:translateY(0.65px);font-size:12px;line-height:1;font-weight:400;color:#737373;letter-spacing:-0.450px;white-space:nowrap;z-index:4;will-change:transform;">10K</div><div style="position:absolute;left:327.50px;top:387px;transform:translateY(0.05px);font-size:12px;line-height:1;font-weight:400;color:#737373;letter-spacing:-0.450px;white-space:nowrap;z-index:4;will-change:transform;">8K</div><div style="position:absolute;left:327.50px;top:413px;transform:translateY(0.45px);font-size:12px;line-height:1;font-weight:400;color:#737373;letter-spacing:-0.450px;white-space:nowrap;z-index:4;will-change:transform;">6K</div><div style="position:absolute;left:327.50px;top:439px;transform:translateY(0.85px);font-size:12px;line-height:1;font-weight:400;color:#737373;letter-spacing:-0.450px;white-space:nowrap;z-index:4;will-change:transform;">4K</div><div style="position:absolute;left:327.50px;top:466px;transform:translateY(0.25px);font-size:12px;line-height:1;font-weight:400;color:#737373;letter-spacing:-0.450px;white-space:nowrap;z-index:4;will-change:transform;">2K</div><div style="position:absolute;left:335.00px;top:492px;transform:translateY(0.65px);font-size:12px;line-height:1;font-weight:400;color:#737373;letter-spacing:-0.450px;white-space:nowrap;z-index:4;will-change:transform;">0</div><div style="position:absolute;left:311.20px;top:609px;transform:translateY(0.90px);font-size:16.5px;line-height:1;font-weight:400;color:#262626;letter-spacing:0.125px;white-space:nowrap;z-index:4;will-change:transform;">Pages</div><div style="position:absolute;left:311.40px;top:667px;transform:translateY(0.00px);font-size:16.5px;line-height:1;font-weight:400;color:#737373;letter-spacing:-0.750px;white-space:nowrap;z-index:4;will-change:transform;">URL</div><div style="position:absolute;left:735.40px;top:667px;transform:translateY(0.00px);font-size:16.5px;line-height:1;font-weight:400;color:#737373;letter-spacing:0.200px;white-space:nowrap;z-index:4;will-change:transform;">Pageviews</div><div style="position:absolute;left:311.00px;top:716px;transform:translateY(0.00px);font-size:16.5px;line-height:1;font-weight:400;color:#262626;letter-spacing:0.000px;white-space:nowrap;z-index:4;will-change:transform;">/</div><div style="position:absolute;left:761.90px;top:716px;transform:translateY(0.00px);font-size:16.5px;line-height:1;font-weight:400;color:#262626;letter-spacing:-0.800px;white-space:nowrap;z-index:4;will-change:transform;">199,131</div><div style="position:absolute;left:311.00px;top:777px;transform:translateY(0.00px);font-size:16.5px;line-height:1;font-weight:400;color:#262626;letter-spacing:0.422px;white-space:nowrap;z-index:4;will-change:transform;">/dashboard</div><div style="position:absolute;left:764.40px;top:777px;transform:translateY(0.00px);font-size:16.5px;line-height:1;font-weight:400;color:#262626;letter-spacing:0.280px;white-space:nowrap;z-index:4;will-change:transform;">53,769</div><div style="position:absolute;left:311.00px;top:838px;transform:translateY(0.00px);font-size:16.5px;line-height:1;font-weight:400;color:#262626;letter-spacing:0.475px;white-space:nowrap;z-index:4;will-change:transform;">/register</div><div style="position:absolute;left:764.40px;top:838px;transform:translateY(0.00px);font-size:16.5px;line-height:1;font-weight:400;color:#262626;letter-spacing:0.320px;white-space:nowrap;z-index:4;will-change:transform;">26,926</div><div style="position:absolute;left:311.00px;top:899px;transform:translateY(0.00px);font-size:16.5px;line-height:1;font-weight:400;color:#262626;letter-spacing:0.580px;white-space:nowrap;z-index:4;will-change:transform;">/login</div><div style="position:absolute;left:765.90px;top:899px;transform:translateY(0.00px);font-size:16.5px;line-height:1;font-weight:400;color:#262626;letter-spacing:0.060px;white-space:nowrap;z-index:4;will-change:transform;">15,252</div><div style="position:absolute;left:311.00px;top:960px;transform:translateY(0.00px);font-size:16.5px;line-height:1;font-weight:400;color:#262626;letter-spacing:0.500px;white-space:nowrap;z-index:4;will-change:transform;">/welcome</div><div style="position:absolute;left:773.90px;top:960px;transform:translateY(0.00px);font-size:16.5px;line-height:1;font-weight:400;color:#262626;letter-spacing:0.250px;white-space:nowrap;z-index:4;will-change:transform;">9,258</div><div style="position:absolute;left:524.80px;top:1025px;transform:translateY(0.20px);font-size:16.5px;line-height:1;font-weight:400;color:#737373;letter-spacing:0.329px;white-space:nowrap;z-index:4;will-change:transform;">View all</div><div style="position:absolute;left:873.20px;top:609px;transform:translateY(0.90px);font-size:16.5px;line-height:1;font-weight:400;color:#262626;letter-spacing:0.362px;white-space:nowrap;z-index:4;will-change:transform;">Referrers</div><div style="position:absolute;left:874.40px;top:667px;transform:translateY(0.00px);font-size:16.5px;line-height:1;font-weight:400;color:#737373;letter-spacing:0.150px;white-space:nowrap;z-index:4;will-change:transform;">Website</div><div style="position:absolute;left:1322.90px;top:667px;transform:translateY(0.00px);font-size:16.5px;line-height:1;font-weight:400;color:#737373;letter-spacing:0.314px;white-space:nowrap;z-index:4;will-change:transform;">Visitors</div><div style="position:absolute;left:897.90px;top:716px;transform:translateY(0.00px);font-size:16.5px;line-height:1;font-weight:400;color:#262626;letter-spacing:0.431px;white-space:nowrap;z-index:4;will-change:transform;">www.google.com</div><div style="position:absolute;left:1325.90px;top:716px;transform:translateY(0.00px);font-size:16.5px;line-height:1;font-weight:400;color:#262626;letter-spacing:0.440px;white-space:nowrap;z-index:4;will-change:transform;">25,465</div><div style="position:absolute;left:897.90px;top:777px;transform:translateY(0.00px);font-size:16.5px;line-height:1;font-weight:400;color:#262626;letter-spacing:0.418px;white-space:nowrap;z-index:4;will-change:transform;">www.bing.com</div><div style="position:absolute;left:1326.90px;top:777px;transform:translateY(0.00px);font-size:16.5px;line-height:1;font-weight:400;color:#262626;letter-spacing:0.200px;white-space:nowrap;z-index:4;will-change:transform;">10,326</div><div style="position:absolute;left:897.90px;top:838px;transform:translateY(0.00px);font-size:16.5px;line-height:1;font-weight:400;color:#262626;letter-spacing:0.467px;white-space:nowrap;z-index:4;will-change:transform;">www.facebook.com</div><div style="position:absolute;left:1335.90px;top:838px;transform:translateY(0.00px);font-size:16.5px;line-height:1;font-weight:400;color:#262626;letter-spacing:0.250px;white-space:nowrap;z-index:4;will-change:transform;">4,280</div><div style="position:absolute;left:897.90px;top:899px;transform:translateY(0.00px);font-size:16.5px;line-height:1;font-weight:400;color:#262626;letter-spacing:0.407px;white-space:nowrap;z-index:4;will-change:transform;">www.youtube.com</div><div style="position:absolute;left:1335.90px;top:899px;transform:translateY(0.00px);font-size:16.5px;line-height:1;font-weight:400;color:#262626;letter-spacing:0.375px;white-space:nowrap;z-index:4;will-change:transform;">2,837</div><div style="position:absolute;left:897.90px;top:960px;transform:translateY(0.00px);font-size:16.5px;line-height:1;font-weight:400;color:#262626;letter-spacing:0.492px;white-space:nowrap;z-index:4;will-change:transform;">www.reddit.com</div><div style="position:absolute;left:1337.40px;top:960px;transform:translateY(0.00px);font-size:16.5px;line-height:1;font-weight:400;color:#262626;letter-spacing:-0.125px;white-space:nowrap;z-index:4;will-change:transform;">1,588</div><div style="position:absolute;left:1086.80px;top:1025px;transform:translateY(0.20px);font-size:16.5px;line-height:1;font-weight:400;color:#737373;letter-spacing:0.329px;white-space:nowrap;z-index:4;will-change:transform;">View all</div>
</body></html>
